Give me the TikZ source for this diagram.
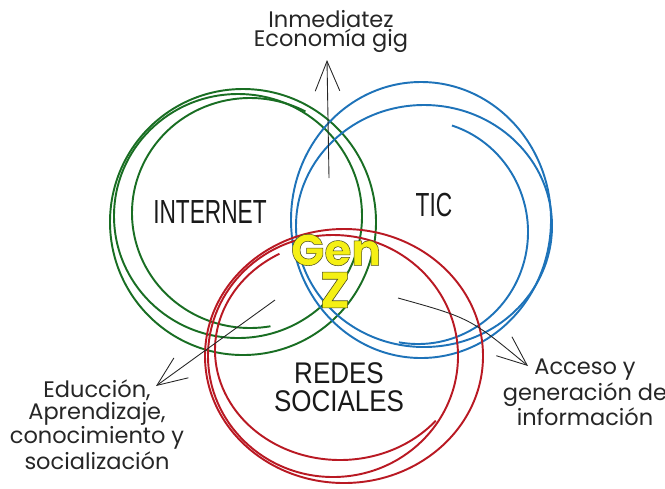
\documentclass[tikz,border=0pt]{standalone}
\usepackage{fontspec}
\setmainfont{Poppins}
\newfontfamily\narrowfont[FakeStretch=0.68]{Liberation Sans}
\newfontfamily\socfont[FakeStretch=0.87]{Liberation Sans}
\newfontfamily\genfont[FakeBold=1.2]{Poppins Bold}
\newcommand\genoutline{\special{pdf:code 0.3 0.3 0.12 RG}}
\usetikzlibrary{arrows.meta}
\definecolor{greenc}{RGB}{25,110,35}
\definecolor{bluec}{RGB}{30,115,185}
\definecolor{redc}{RGB}{185,25,35}
\definecolor{genyellow}{RGB}{245,240,20}

\begin{document}
\begin{tikzpicture}[x=0.02cm,y=-0.02cm,
  greenline/.style={draw=greenc, line width=1.1pt},
  blueline/.style={draw=bluec, line width=1.1pt},
  redline/.style={draw=redc, line width=1.1pt},
  sidelabel/.style={align=center, inner sep=0pt, text=black!85, font=\fontsize{12.8}{11}\selectfont},
  biglabel/.style={inner sep=0pt, text=black!90, font=\narrowfont\fontsize{19}{19}\selectfont},
  genlabel/.style={inner sep=0pt, text=genyellow},
  pointer/.style={-{Straight Barb[length=17pt,width=14pt]}, line width=0.5pt, black!85}]
\useasboundingbox (0,0) rectangle (665,488);

\draw [greenline] (243,222) ellipse [x radius=133, y radius=133];
\draw [greenline] (238,216) ellipse [x radius=124, y radius=122];
\draw [greenline] (250,213) ++(-62:118 and 115) arc [start angle=-62, end angle=-280, x radius=118, y radius=115];

\draw [blueline] (421,220) ellipse [x radius=130, y radius=138];
\draw [blueline] (424,226) ellipse [x radius=128, y radius=121];
\draw [blueline] (418,232) ++(-72:110 and 112) arc [start angle=-72, end angle=100, x radius=110, y radius=112];

\draw [redline] (344,356) ellipse [x radius=139, y radius=127];
\draw [redline] (333,356) ellipse [x radius=125, y radius=121];
\draw [redline] (340,350) ++(241:125 and 110) arc [start angle=241, end angle=40, x radius=125, y radius=110];

\node [biglabel] (internet) at (210,212) {INTERNET};
\node [biglabel] (tic) at (434,205) {TIC};
\node [biglabel, align=center, font=\socfont\fontsize{17}{16}\selectfont] (redes) at (339,387) {REDES\\SOCIALES};

\node [genlabel, font=\genfont\fontsize{25}{25}\selectfont] (genword) at (336,250) {\genoutline Gen};
\node [genlabel, font=\genfont\fontsize{29}{29}\selectfont] (zword) at (335,290) {\genoutline Z};

\node [sidelabel, anchor=north] (trend) at (331,10) {Inmediatez\\Econom\'ia gig};
\node [sidelabel, anchor=north] (learn) at (97,379) {Educci\'on,\\Aprendizaje,\\conocimiento y\\socializaci\'on};
\node [sidelabel, anchor=north] (access) at (585,359) {Acceso y\\generaci\'on de\\informaci\'on};

\coordinate (upstart) at (329,178);
\coordinate (uptip) at (327,60);
\coordinate (learnstart) at (275,300);
\coordinate (learntip) at (156,386);
\coordinate (accstart) at (398,298);
\coordinate (acctip) at (528,366);
\draw [pointer] (upstart) -- (uptip);
\draw [pointer] (learnstart) -- (learntip);
\draw [pointer] (accstart) .. controls (470,318) .. (acctip);
\end{tikzpicture}
\end{document}
